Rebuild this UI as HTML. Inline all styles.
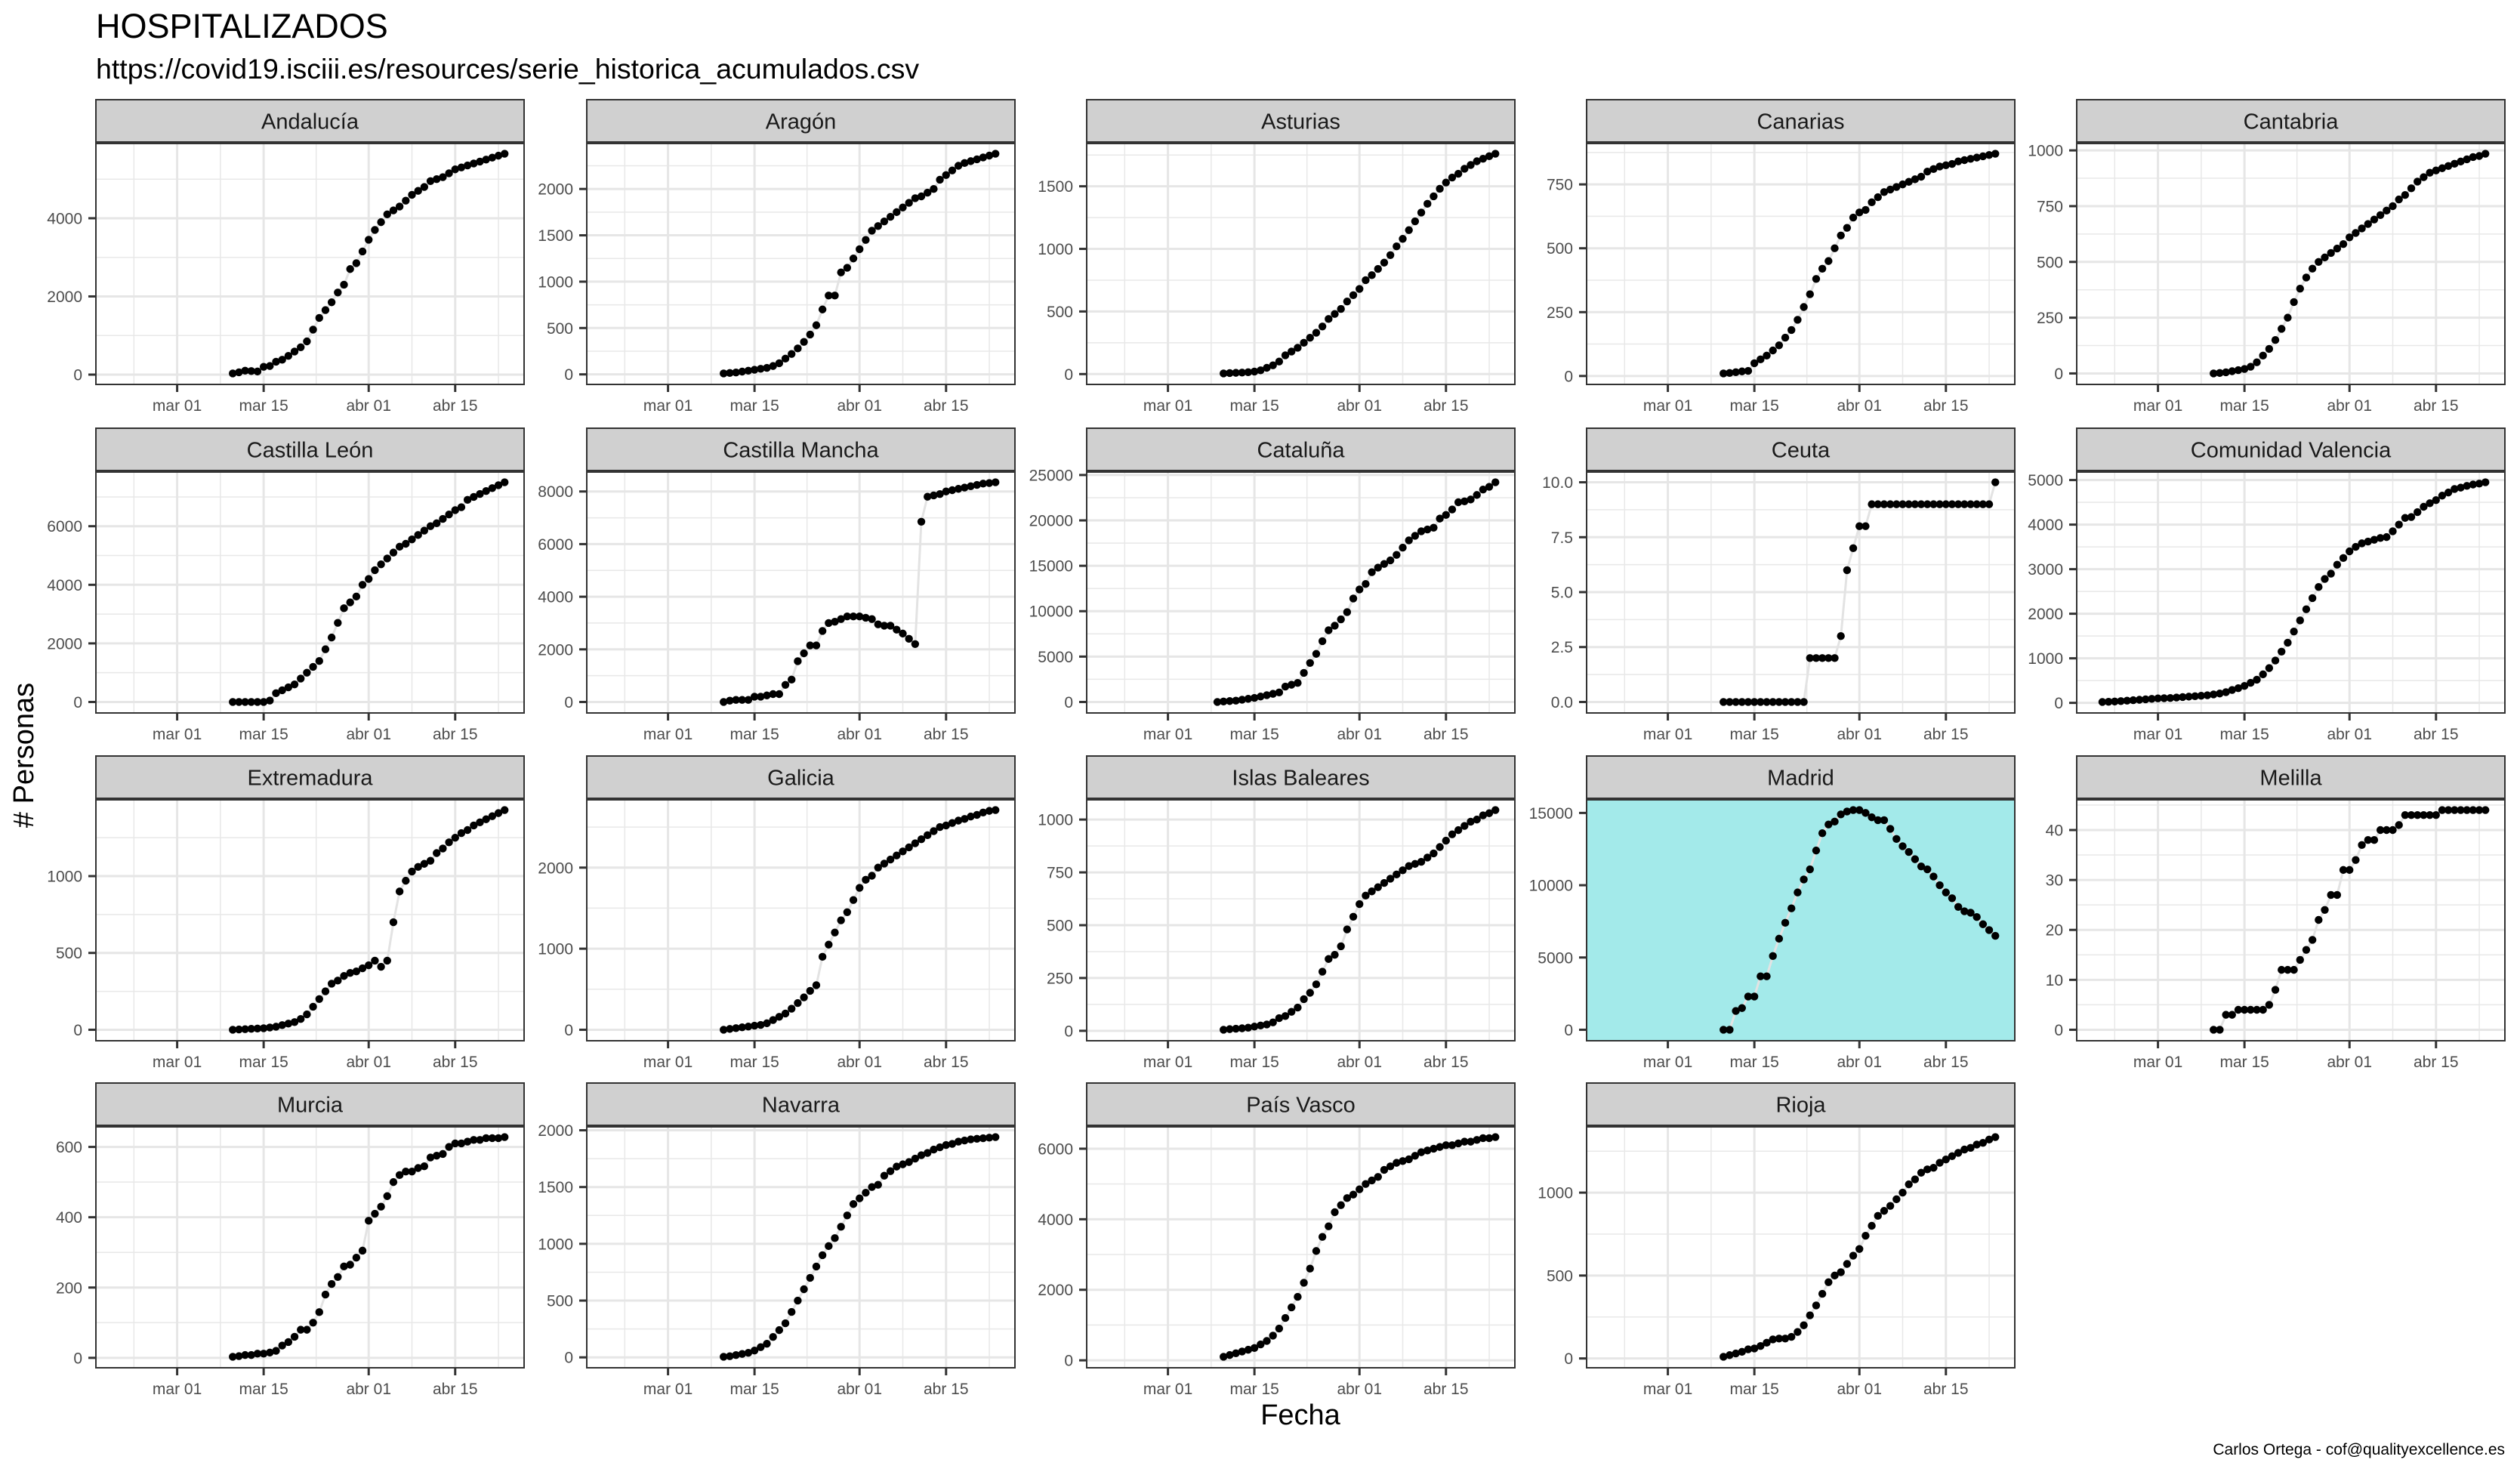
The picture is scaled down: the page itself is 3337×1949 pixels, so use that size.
<!DOCTYPE html>
<html><head><meta charset="utf-8">
<style>
html,body{margin:0;padding:0;background:#fff;}
svg{display:block;font-family:"Liberation Sans",Arial,sans-serif;}
</style></head>
<body>
<svg id="chart" width="3337" height="1949" viewBox="0 0 3337 1949" xmlns="http://www.w3.org/2000/svg">
<rect x="0" y="0" width="3337" height="1949" fill="#ffffff"/>
<text x="127" y="50" font-size="45" fill="#000">HOSPITALIZADOS</text>
<text x="127" y="104" font-size="37.5" fill="#000">https://covid19.isciii.es/resources/serie_historica_acumulados.csv</text>
<text transform="translate(44,1000) rotate(-90)" text-anchor="middle" font-size="38" fill="#000"># Personas</text>
<text x="1722" y="1886" text-anchor="middle" font-size="38" fill="#000">Fecha</text>
<text x="3317" y="1926" text-anchor="end" font-size="21" fill="#000">Carlos Ortega - cof@qualityexcellence.es</text>
<g id="panels"></g>
</svg>
<script>
// ---- data (day 0 = Mar 01) ----
const regions = ["Andalucía","Aragón","Asturias","Canarias","Cantabria","Castilla León","Castilla Mancha","Cataluña","Ceuta","Comunidad Valencia","Extremadura","Galicia","Islas Baleares","Madrid","Melilla","Murcia","Navarra","País Vasco","Rioja"];
const startDays = [9,9,9,9,9,9,9,8,9,-9,9,9,9,9,9,9,9,9,9];
const andalucia = [30,60,100,90,80,200,220,330,380,480,590,700,850,1150,1450,1650,1850,2100,2300,2700,2850,3150,3450,3700,3900,4100,4200,4300,4450,4600,4700,4800,4950,5000,5050,5150,5250,5300,5350,5400,5450,5500,5550,5600,5650];
const aragon = [10,15,20,30,40,50,60,70,90,120,170,220,280,350,430,530,700,850,850,1100,1150,1250,1350,1450,1550,1600,1650,1700,1750,1800,1850,1900,1920,1960,2000,2100,2150,2200,2250,2280,2300,2320,2340,2360,2380];
const asturias = [5,8,10,12,15,20,30,50,70,100,150,180,210,250,290,330,380,440,480,520,580,630,680,750,790,840,890,950,1020,1080,1150,1220,1290,1360,1420,1480,1530,1570,1600,1640,1670,1700,1720,1740,1760];
const canarias = [10,12,15,18,20,50,65,80,100,120,150,180,220,270,320,380,420,450,500,550,580,620,640,650,680,700,720,730,740,750,760,770,780,800,810,820,825,830,840,845,850,855,860,865,870];
const cantabria = [0,2,5,10,15,20,30,50,80,110,150,200,250,320,380,430,470,500,520,540,560,580,610,630,650,670,690,710,730,750,780,800,830,860,880,900,910,920,930,940,950,960,970,975,985];
const castillaLeon = [0,0,0,0,0,0,50,300,400,500,600,800,1000,1200,1400,1800,2200,2700,3200,3400,3600,4000,4200,4500,4700,4900,5100,5300,5400,5550,5700,5850,6000,6100,6250,6400,6550,6650,6900,7000,7100,7200,7300,7400,7500];
const castillaMancha = [0,50,80,80,80,200,200,250,300,300,650,850,1550,1850,2150,2150,2700,3000,3050,3150,3250,3250,3250,3200,3150,2950,2900,2900,2750,2600,2400,2200,6850,7800,7850,7900,8000,8050,8100,8150,8200,8250,8300,8320,8350];
const cataluna = [0,50,100,150,250,350,450,600,750,900,1050,1700,1900,2100,3200,4300,5300,6700,7900,8400,9100,9900,11400,12400,13000,14300,14800,15200,15600,16200,17000,17800,18300,18800,19000,19200,20200,20600,21200,22000,22100,22300,22800,23400,23700,24200];
const ceuta = [0,0,0,0,0,0,0,0,0,0,0,0,0,0,2,2,2,2,2,3,6,7,8,8,9,9,9,9,9,9,9,9,9,9,9,9,9,9,9,9,9,9,9,9,10];
const comunidadValencia = [20,25,30,40,50,60,70,80,90,100,105,110,120,130,140,150,160,170,190,210,240,290,330,380,450,520,640,780,950,1150,1350,1600,1850,2100,2350,2600,2780,2900,3100,3250,3400,3500,3580,3620,3660,3700,3720,3850,4000,4150,4170,4280,4400,4480,4550,4650,4720,4800,4830,4870,4900,4920,4950];
const extremadura = [0,2,4,6,8,10,15,20,30,40,50,70,100,150,200,250,300,320,350,370,380,400,420,450,410,450,700,900,970,1030,1060,1080,1100,1150,1180,1220,1250,1280,1300,1330,1350,1370,1390,1410,1430];
const galicia = [0,10,20,30,40,50,60,80,120,160,200,260,330,400,480,550,900,1050,1200,1350,1450,1600,1750,1850,1900,2000,2050,2100,2150,2200,2250,2300,2350,2400,2450,2500,2520,2550,2580,2600,2630,2650,2680,2700,2710];
const baleares = [5,8,10,12,15,20,25,30,40,60,70,90,110,150,180,220,280,340,360,400,480,540,600,640,660,680,700,720,740,760,780,790,800,820,840,870,900,930,950,970,990,1000,1020,1030,1045];
const madrid = [0,0,1300,1500,2300,2300,3700,3700,5100,6300,7400,8400,9500,10400,11100,12400,13600,14200,14400,14900,15100,15200,15200,15000,14700,14500,14500,13900,13200,12700,12300,11800,11300,11100,10600,10000,9500,9100,8500,8200,8100,7800,7300,6900,6500];
const melilla = [0,0,3,3,4,4,4,4,4,5,8,12,12,12,14,16,18,22,24,27,27,32,32,34,37,38,38,40,40,40,41,43,43,43,43,43,43,44,44,44,44,44,44,44,44];
const murcia = [3,5,8,8,12,12,15,20,35,45,60,80,80,100,130,180,210,230,260,265,285,305,390,410,430,460,500,520,530,530,540,545,570,575,580,600,610,610,615,620,620,625,625,625,628];
const navarra = [5,10,20,30,40,60,90,120,180,240,300,400,500,600,700,800,900,980,1050,1150,1250,1350,1400,1450,1500,1520,1600,1640,1680,1700,1720,1750,1780,1800,1830,1850,1870,1880,1900,1910,1920,1925,1930,1935,1940];
const paisVasco = [100,150,200,250,300,350,450,550,700,900,1200,1500,1800,2200,2600,3100,3500,3800,4200,4400,4600,4700,4850,5000,5100,5200,5400,5500,5600,5650,5700,5800,5900,5950,6000,6050,6100,6100,6150,6200,6200,6250,6300,6300,6330];
const rioja = [10,20,30,40,55,60,75,95,115,120,120,130,160,200,260,320,390,460,500,520,570,620,660,740,800,860,890,920,960,1000,1050,1080,1120,1140,1150,1180,1200,1220,1240,1260,1270,1290,1300,1320,1335];
const seriesValues = [andalucia,aragon,asturias,canarias,cantabria,castillaLeon,castillaMancha,cataluna,ceuta,comunidadValencia,extremadura,galicia,baleares,madrid,melilla,murcia,navarra,paisVasco,rioja];
const yTicks = [[0,2000,4000],[0,500,1000,1500,2000],[0,500,1000,1500],[0,250,500,750],[0,250,500,750,1000],[0,2000,4000,6000],[0,2000,4000,6000,8000],[0,5000,10000,15000,20000,25000],[0,2.5,5,7.5,10],[0,1000,2000,3000,4000,5000],[0,500,1000],[0,1000,2000],[0,250,500,750,1000],[0,5000,10000,15000],[0,10,20,30,40],[0,200,400,600],[0,500,1000,1500,2000],[0,2000,4000,6000],[0,500,1000]];
const yTickLabels = [["0","2000","4000"],["0","500","1000","1500","2000"],["0","500","1000","1500"],["0","250","500","750"],["0","250","500","750","1000"],["0","2000","4000","6000"],["0","2000","4000","6000","8000"],["0","5000","10000","15000","20000","25000"],["0.0","2.5","5.0","7.5","10.0"],["0","1000","2000","3000","4000","5000"],["0","500","1000"],["0","1000","2000"],["0","250","500","750","1000"],["0","5000","10000","15000"],["0","10","20","30","40"],["0","200","400","600"],["0","500","1000","1500","2000"],["0","2000","4000","6000"],["0","500","1000"]];
const xTickDays = [0,14,31,45];
const xTickLabels = ["mar 01","mar 15","abr 01","abr 15"];
const xMinorDays = [-7,7,22.5,38,52];
const highlighted = ["Madrid"];

// ---- layout ----
const NS = "http://www.w3.org/2000/svg";
const colLefts = [127,777,1439,2101,2750];
const rowTops = [132,567,1001,1434];
const PW = 567, STRIP = 57, PH = 320;
const X0 = -13.15, X1 = 56.15;
const root = document.getElementById("panels");
function mk(tag, attrs, parent){
  const e = document.createElementNS(NS, tag);
  for (const k in attrs) e.setAttribute(k, attrs[k]);
  parent.appendChild(e);
  return e;
}
function slug(s){ return s.toLowerCase().normalize("NFD").replace(/[\u0300-\u036f]/g,"").replace(/[^a-z0-9]+/g,"-"); }

regions.forEach((name, i) => {
  const col = i % 5, row = Math.floor(i / 5);
  const L = colLefts[col], T = rowTops[row];
  const PT = T + STRIP, PB = PT + PH, R = L + PW;
  const vals = seriesValues[i];
  const s0 = startDays[i];
  const mn = Math.min(...vals), mx = Math.max(...vals);
  const rng = (mx - mn) || 1;
  const y0 = mn - 0.05 * rng, y1 = mx + 0.05 * rng;
  const xs = d => L + (d - X0) / (X1 - X0) * PW;
  const ys = v => PB - (v - y0) / (y1 - y0) * PH;
  const g = mk("g", {}, root);
  
  
  const hl = highlighted.includes(name);
  const bg = mk("rect", {x:L, y:PT, width:PW, height:PH, fill: hl ? "#a3eaea" : "#ffffff"}, g);
  
  
  if (!hl) {
    const t = yTicks[i];
    const step = t.length > 1 ? t[1] - t[0] : rng;
    for (let v = t[0] - step / 2; v <= y1; v += step) {
      if (v < y0) continue;
      const gl = mk("line", {x1:L, x2:R, y1:ys(v), y2:ys(v), stroke:"#e8e8e8", "stroke-width":1.5}, g);
      
      
    }
    xMinorDays.forEach(d => {
      const gl = mk("line", {x1:xs(d), x2:xs(d), y1:PT, y2:PB, stroke:"#e8e8e8", "stroke-width":1.5}, g);
      
      
    });
    t.forEach(v => {
      const gl = mk("line", {x1:L, x2:R, y1:ys(v), y2:ys(v), stroke:"#e6e6e6", "stroke-width":3}, g);
      
      
    });
    xTickDays.forEach(d => {
      const gl = mk("line", {x1:xs(d), x2:xs(d), y1:PT, y2:PB, stroke:"#e6e6e6", "stroke-width":3}, g);
      
      
    });
  }
  const pts = vals.map((v, k) => xs(s0 + k).toFixed(1) + "," + ys(v).toFixed(1)).join(" ");
  const pl = mk("polyline", {points:pts, fill:"none", stroke:"#e3e3e3", "stroke-width":3}, g);
  
  
  vals.forEach((v, k) => {
    const c = mk("circle", {cx:xs(s0 + k), cy:ys(v), r:5.2, fill:"#000"}, g);
    
    
  });
  const bd = mk("rect", {x:L, y:PT, width:PW, height:PH, fill:"none", stroke:"#333", "stroke-width":2}, g);
  
  
  const st = mk("rect", {x:L, y:T, width:PW, height:STRIP, fill:"#d0d0d0", stroke:"#333", "stroke-width":2}, g);
  
  
  const sl = mk("line", {x1:L, x2:R, y1:PT, y2:PT, stroke:"#333", "stroke-width":4}, g);
  
  
  const stt = mk("text", {x:L + PW / 2, y:T + STRIP / 2 + 10, "text-anchor":"middle", "font-size":29, fill:"#1a1a1a"}, g);
  stt.textContent = name;
  
  
  yTicks[i].forEach((v, k) => {
    const tk = mk("line", {x1:L - 10, x2:L, y1:ys(v), y2:ys(v), stroke:"#333", "stroke-width":3}, g);
    
    
    const tl = mk("text", {x:L - 18, y:ys(v) + 7.5, "text-anchor":"end", "font-size":21, fill:"#4d4d4d"}, g);
    tl.textContent = yTickLabels[i][k];
    
    
  });
  xTickDays.forEach((d, k) => {
    const tk = mk("line", {x1:xs(d), x2:xs(d), y1:PB, y2:PB + 10, stroke:"#333", "stroke-width":3}, g);
    
    
    const tl = mk("text", {x:xs(d), y:PB + 35, "text-anchor":"middle", "font-size":21, fill:"#4d4d4d"}, g);
    tl.textContent = xTickLabels[k];
    
    
  });
});
</script>
</body></html>
